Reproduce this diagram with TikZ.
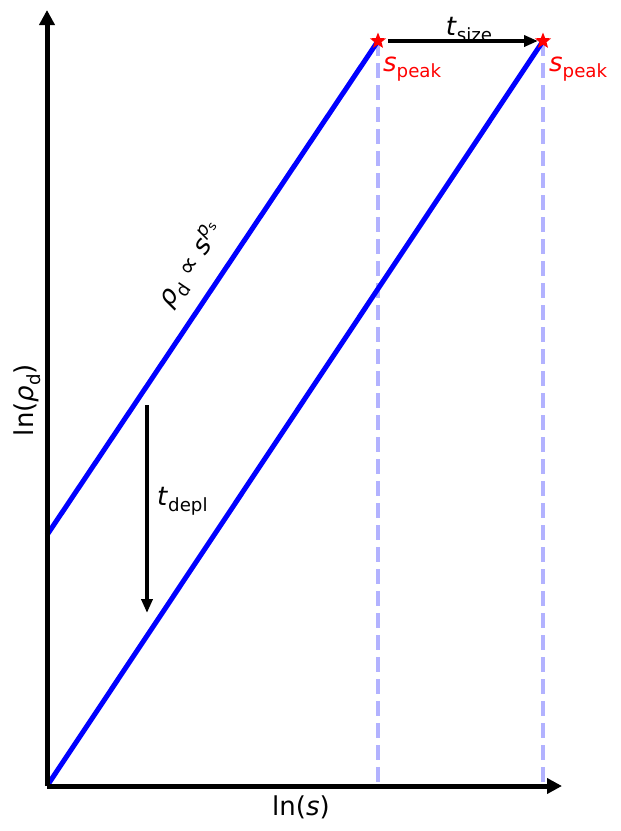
\documentclass[tikz,border=0pt]{standalone}
\usepackage{fontspec}
\setmainfont{DejaVu Sans}
\usetikzlibrary{arrows.meta,shapes.geometric}
\newcommand\mysub[1]{\raisebox{-0.24em}{\fontsize{18.2}{20}\selectfont #1}}
\newcommand\mysup[1]{\raisebox{0.42em}{\fontsize{18.2}{20}\selectfont #1}}
\newcommand\mysubsub[1]{\raisebox{-0.2em}{\fontsize{12.7}{14}\selectfont #1}}
\definecolor{dashblue}{RGB}{178,178,255}
\tikzset{
  axis/.style={line width=5pt,-{Triangle[length=15pt,width=15pt]}},
  trend/.style={line width=5pt,blue,line cap=butt},
  guide/.style={line width=3.5pt,dashblue,dash pattern=on 15pt off 7pt},
  timearrow/.style={line width=3.5pt,-{Triangle[length=14pt,width=11pt]}},
  peakstar/.style={star,star points=5,star point ratio=2.3,fill=red,draw=none,minimum size=17pt,inner sep=0pt},
  lbl/.style={font=\fontsize{26}{30}\selectfont,inner sep=0pt},
}
\begin{document}
\begin{tikzpicture}[x=1pt,y=-1pt]
\useasboundingbox (0,0) rectangle (621,831);
% coordinates
\coordinate (O) at (47,786);
\coordinate (ytop) at (47,10);
\coordinate (xend) at (562,786);
\coordinate (a0) at (47,535);
\coordinate (b0) at (47,786);
\coordinate (a1) at (378,41);
\coordinate (b1) at (543,41);
\coordinate (a2) at (378,786);
\coordinate (b2) at (543,786);
\coordinate (ts0) at (388,41);
\coordinate (ts1) at (538,41);
\coordinate (td0) at (147,405);
\coordinate (td1) at (147,613);
% guides
\draw[guide] (a1) -- (a2);
\draw[guide] (b1) -- (b2);
% trend lines
\draw[trend] (a0) -- (a1);
\draw[trend] (b0) -- (b1);
% axes
\draw[axis] (O) -- (ytop);
\draw[axis] (O) -- (xend);
% stars
\node[peakstar] (sa) at (a1) {};
\node[peakstar] (sb) at (b1) {};
% arrows
\draw[timearrow] (ts0) -- (ts1);
\draw[timearrow] (td0) -- (td1);
% labels
\node[lbl,anchor=base] (tsize) at (469,35) {\textit{t}\mysub{size}};
\node[lbl,anchor=base west,text=red] (spa) at (383,71) {\textit{s}\mysub{peak}};
\node[lbl,anchor=base west,text=red] (spb) at (549,71) {\textit{s}\mysub{peak}};
\node[lbl,anchor=base west] (tdepl) at (157,505) {\textit{t}\mysub{depl}};
\node[lbl,rotate=56.2] (law) at (191,265) {\textit{ρ}\mysub{d} ∝ \textit{s}\mysup{\textit{p}\mysubsub{s}}};
\node[lbl,anchor=base] (xl) at (301,815) {ln(\textit{s})};
\node[lbl,rotate=90,anchor=base] (yl) at (34,400) {ln(\textit{ρ}\mysub{d})};
\end{tikzpicture}
\end{document}
